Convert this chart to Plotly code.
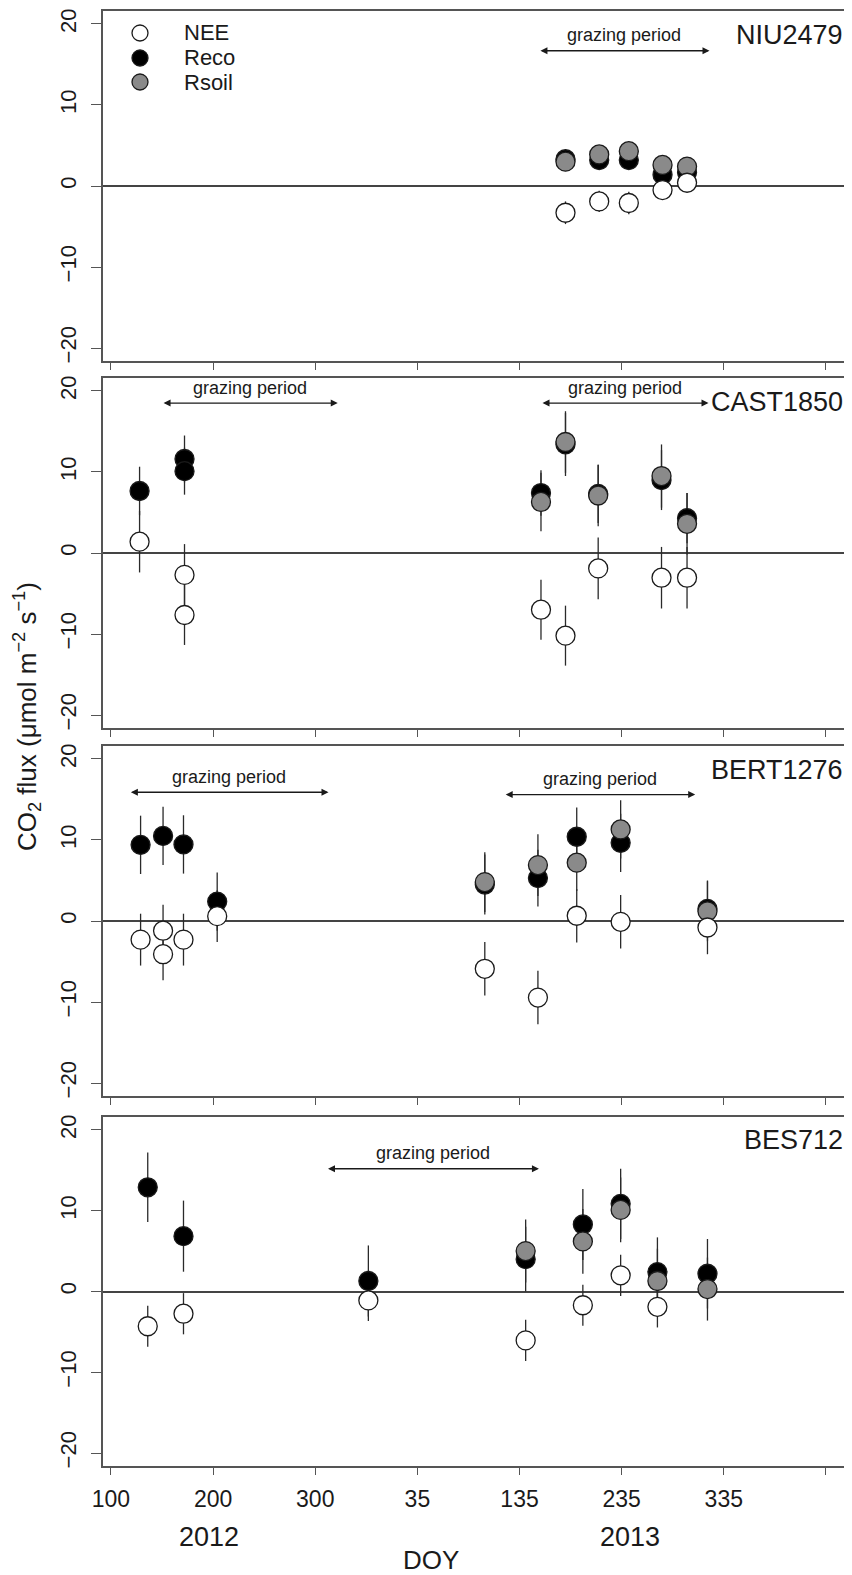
import plotly.graph_objects as go

# ---------------- data (x = day of year; 2013 days are shifted by 365 on the continuous axis) ----------------
sites = ["NIU2479", "CAST1850", "BERT1276", "BES712"]

# NIU2479
NIU_reco_doy = [180, 213, 242, 275, 299]
NIU_reco_year = [2013, 2013, 2013, 2013, 2013]
NIU_reco = [3.3, 3.2, 3.2, 1.4, 1.7]
NIU_reco_err = [1.2, 1.2, 1.2, 1.0, 1.0]
NIU_rsoil_doy = [180, 213, 242, 275, 299]
NIU_rsoil_year = [2013, 2013, 2013, 2013, 2013]
NIU_rsoil = [3.0, 3.9, 4.3, 2.6, 2.4]
NIU_rsoil_err = [1.0, 1.0, 1.0, 1.0, 1.0]
NIU_nee_doy = [180, 213, 242, 275, 299]
NIU_nee_year = [2013, 2013, 2013, 2013, 2013]
NIU_nee = [-3.3, -1.9, -2.1, -0.5, 0.4]
NIU_nee_err = [1.4, 1.3, 1.4, 1.0, 1.0]

# CAST1850
CAST_reco_doy = [128, 172, 172, 156, 180, 212, 274, 299]
CAST_reco_year = [2012, 2012, 2012, 2013, 2013, 2013, 2013, 2013]
CAST_reco = [7.65, 11.6, 10.1, 7.4, 13.4, 7.3, 9.0, 4.3]
CAST_reco_err = [3.0, 2.9, 2.9, 2.8, 3.9, 3.6, 3.7, 3.1]
CAST_rsoil_doy = [156, 180, 212, 274, 299]
CAST_rsoil_year = [2013, 2013, 2013, 2013, 2013]
CAST_rsoil = [6.3, 13.7, 7.1, 9.5, 3.6]
CAST_rsoil_err = [3.6, 3.8, 3.8, 3.9, 3.8]
CAST_nee_doy = [128, 172, 172, 156, 180, 212, 274, 299]
CAST_nee_year = [2012, 2012, 2012, 2013, 2013, 2013, 2013, 2013]
CAST_nee = [1.4, -2.7, -7.65, -7.0, -10.2, -1.9, -3.05, -3.05]
CAST_nee_err = [3.8, 3.8, 3.7, 3.7, 3.7, 3.8, 3.8, 3.8]

# BERT1276
BERT_reco_doy = [129, 151, 171, 204, 101, 153, 191, 234, 319]
BERT_reco_year = [2012, 2012, 2012, 2012, 2013, 2013, 2013, 2013, 2013]
BERT_reco = [9.4, 10.5, 9.45, 2.4, 4.5, 5.3, 10.4, 9.65, 1.5]
BERT_reco_err = [3.6, 3.6, 3.6, 3.6, 3.7, 3.5, 3.6, 3.6, 3.5]
BERT_rsoil_doy = [101, 153, 191, 234, 319]
BERT_rsoil_year = [2013, 2013, 2013, 2013, 2013]
BERT_rsoil = [4.8, 6.9, 7.2, 11.3, 1.2]
BERT_rsoil_err = [3.7, 3.8, 3.5, 3.6, 3.7]
BERT_nee_doy = [129, 151, 151, 171, 204, 101, 153, 191, 234, 319]
BERT_nee_year = [2012, 2012, 2012, 2012, 2012, 2013, 2013, 2013, 2013, 2013]
BERT_nee = [-2.3, -1.2, -4.1, -2.3, 0.6, -5.9, -9.45, 0.65, -0.1, -0.8]
BERT_nee_err = [3.2, 3.2, 3.2, 3.2, 3.2, 3.3, 3.3, 3.3, 3.3, 3.3]

# BES712
BES_reco_doy = [136, 171, 352, 141, 197, 234, 270, 319]
BES_reco_year = [2012, 2012, 2012, 2013, 2013, 2013, 2013, 2013]
BES_reco = [12.9, 6.85, 1.3, 4.0, 8.3, 10.85, 2.4, 2.2]
BES_reco_err = [4.3, 4.4, 4.4, 4.0, 4.4, 4.35, 4.3, 4.3]
BES_rsoil_doy = [141, 197, 234, 270, 319]
BES_rsoil_year = [2013, 2013, 2013, 2013, 2013]
BES_rsoil = [5.0, 6.2, 10.1, 1.3, 0.3]
BES_rsoil_err = [3.9, 4.0, 4.0, 4.0, 3.9]
BES_nee_doy = [136, 171, 352, 141, 197, 234, 270]
BES_nee_year = [2012, 2012, 2012, 2013, 2013, 2013, 2013]
BES_nee = [-4.3, -2.75, -1.1, -6.05, -1.7, 2.0, -1.9]
BES_nee_err = [2.55, 2.55, 2.55, 2.55, 2.55, 2.55, 2.55]

# grazing periods: (start doy, start year, end doy, end year)
NIU_grazing = [(154, 2013, 321, 2013)]
CAST_grazing = [(150, 2012, 322, 2012), (156, 2013, 320, 2013)]
BERT_grazing = [(118, 2012, 313, 2012), (120, 2013, 307, 2013)]
BES_grazing = [(311, 2012, 154, 2013)]

tick_days = [100, 200, 300, 400, 500, 600, 700, 800]
tick_labels = ["100", "200", "300", "35", "135", "235", "335", ""]
y_ticks = [-20, -10, 0, 10, 20]
legend_names = ["NEE", "Reco", "Rsoil"]

YEAR_SHIFT = {2012: 0, 2013: 365}


def cont(doys, years):
    return [d + YEAR_SHIFT[y] for d, y in zip(doys, years)]


panels = [
    dict(name="NIU2479",
         reco=(NIU_reco_doy, NIU_reco_year, NIU_reco, NIU_reco_err),
         rsoil=(NIU_rsoil_doy, NIU_rsoil_year, NIU_rsoil, NIU_rsoil_err),
         nee=(NIU_nee_doy, NIU_nee_year, NIU_nee, NIU_nee_err),
         graze=NIU_grazing, graze_y=[16.7]),
    dict(name="CAST1850",
         reco=(CAST_reco_doy, CAST_reco_year, CAST_reco, CAST_reco_err),
         rsoil=(CAST_rsoil_doy, CAST_rsoil_year, CAST_rsoil, CAST_rsoil_err),
         nee=(CAST_nee_doy, CAST_nee_year, CAST_nee, CAST_nee_err),
         graze=CAST_grazing, graze_y=[18.5, 18.5]),
    dict(name="BERT1276",
         reco=(BERT_reco_doy, BERT_reco_year, BERT_reco, BERT_reco_err),
         rsoil=(BERT_rsoil_doy, BERT_rsoil_year, BERT_rsoil, BERT_rsoil_err),
         nee=(BERT_nee_doy, BERT_nee_year, BERT_nee, BERT_nee_err),
         graze=BERT_grazing, graze_y=[15.9, 15.6]),
    dict(name="BES712",
         reco=(BES_reco_doy, BES_reco_year, BES_reco, BES_reco_err),
         rsoil=(BES_rsoil_doy, BES_rsoil_year, BES_rsoil, BES_rsoil_err),
         nee=(BES_nee_doy, BES_nee_year, BES_nee, BES_nee_err),
         graze=BES_grazing, graze_y=[15.2]),
]

# ---------------- layout geometry ----------------
# The page body has an 8 px default margin, so the figure is made 8 px smaller
# and all page-pixel positions below are shifted by that offset.
OFF = 8
W, H = 852 - OFF, 1575 - OFF
ML, MR, MT, MB = 103 - OFF, 0, 11 - OFF, 109
plot_w = W - ML - MR
plot_h = H - MT - MB
panel_px = [(11, 361), (378, 728), (746, 1096), (1117, 1466)]  # page pixels


def px_x(px):
    return (px - OFF - ML) / plot_w


def px_y(py):
    return (H - MB - (py - OFF)) / plot_h


FONT = "Liberation Sans, Arial, Helvetica, sans-serif"
AXC = "#555555"
TXT = "#1a1a1a"
EDGE = "#1a1a1a"

styles = {
    "nee": dict(name="NEE", fill="white"),
    "reco": dict(name="Reco", fill="black"),
    "rsoil": dict(name="Rsoil", fill="#8a8a8a"),
}

fig = go.Figure()

for i, p in enumerate(panels):
    sfx = "" if i == 0 else str(i + 1)
    xa, ya = "x" + sfx, "y" + sfx
    # error bars first (so that all markers are drawn on top)
    for key in ["reco", "rsoil", "nee"]:
        doy, yr, val, err = p[key]
        fig.add_trace(go.Scatter(
            x=cont(doy, yr), y=val, mode="markers", xaxis=xa, yaxis=ya,
            marker=dict(size=2, color="rgba(0,0,0,0)"),
            error_y=dict(type="data", array=err, visible=True, color="#2a2a2a",
                         thickness=1.3, width=0),
            showlegend=False, hoverinfo="skip"))
    for key in ["reco", "rsoil", "nee"]:
        doy, yr, val, err = p[key]
        st = styles[key]
        fig.add_trace(go.Scatter(
            x=cont(doy, yr), y=val, mode="markers", xaxis=xa, yaxis=ya,
            name=st["name"],
            marker=dict(size=19, color=st["fill"], line=dict(color=EDGE, width=1.3)),
            showlegend=False))

layout = dict(
    template="none",
    width=W, height=H,
    margin=dict(l=ML, r=MR, t=MT, b=MB, autoexpand=False),
    paper_bgcolor="white", plot_bgcolor="white",
    font=dict(family=FONT, color=TXT),
    showlegend=False,
)

annotations = []
shapes = []
for i, p in enumerate(panels):
    sfx = "" if i == 0 else str(i + 1)
    top, bot = panel_px[i]
    dom = [px_y(bot), px_y(top)]
    last = (i == len(panels) - 1)
    layout["xaxis" + sfx] = dict(
        domain=[0, 1], anchor="y" + sfx, range=[92.2, 825.5], automargin=False,
        tickmode="array", tickvals=tick_days, ticktext=tick_labels,
        showticklabels=last, ticks="outside", ticklen=7, tickwidth=1.3, tickcolor=AXC,
        showline=True, linecolor=AXC, linewidth=1.5, mirror=True,
        showgrid=False, zeroline=False,
        tickfont=dict(size=23, family=FONT, color=TXT), ticklabelstandoff=5,
    )
    layout["yaxis" + sfx] = dict(
        domain=dom, anchor="x" + sfx, range=[-21.6, 21.6], automargin=False,
        tickmode="array", tickvals=y_ticks,
        ticks="outside", ticklen=10, tickwidth=1.3, tickcolor=AXC,
        showline=True, linecolor=AXC, linewidth=1.5,
        showgrid=False, zeroline=True, zerolinecolor="#444444", zerolinewidth=1.7,
        tickangle=-90, tickfont=dict(size=22, family=FONT, color=TXT),
        ticklabelstandoff=6,
    )
    # site name
    annotations.append(dict(
        text=p["name"], xref="paper", yref="y" + sfx,
        x=px_x(845), y=18.7, xanchor="right", yanchor="middle", showarrow=False,
        font=dict(size=27, family=FONT, color=TXT)))
    # grazing periods
    for (sd, sy, ed, ey), gy in zip(p["graze"], p["graze_y"]):
        xs = sd + YEAR_SHIFT[sy]
        xe = ed + YEAR_SHIFT[ey]
        annotations.append(dict(
            text="", x=xe, y=gy, ax=xs, ay=gy,
            xref="x" + sfx, yref="y" + sfx, axref="x" + sfx, ayref="y" + sfx,
            showarrow=True, arrowhead=2, arrowside="end+start", arrowsize=1.0,
            arrowwidth=1.4, arrowcolor="#1a1a1a", standoff=0, startstandoff=0))
        annotations.append(dict(
            text="grazing period", x=(xs + xe) / 2, y=gy + 1.9,
            xref="x" + sfx, yref="y" + sfx, showarrow=False,
            xanchor="center", yanchor="middle",
            font=dict(size=18, family=FONT, color=TXT)))

# legend (drawn manually, top-left of first panel)
leg_rows_px = [33, 58, 82]
r = 8
for name, key, ypx in zip(legend_names, ["nee", "reco", "rsoil"], leg_rows_px):
    shapes.append(dict(
        type="circle", xref="paper", yref="paper",
        x0=px_x(140 - r), x1=px_x(140 + r), y0=px_y(ypx + r), y1=px_y(ypx - r),
        fillcolor=styles[key]["fill"], line=dict(color=EDGE, width=1.3), layer="above"))
    annotations.append(dict(
        text=name, xref="paper", yref="paper", x=px_x(182), y=px_y(ypx),
        xanchor="left", yanchor="middle", showarrow=False,
        font=dict(size=22, family=FONT, color=TXT)))

# y-axis title
annotations.append(dict(
    text="CO<sub>2</sub> flux (μmol m<sup>−2</sup> s<sup>−1</sup>)",
    xref="paper", yref="paper", x=px_x(27), y=px_y(717),
    textangle=-90, showarrow=False, xanchor="center", yanchor="middle",
    font=dict(size=26, family=FONT, color=TXT)))
# year labels and DOY label
annotations.append(dict(text="2012", xref="x4", yref="paper", x=196, y=px_y(1537),
                        showarrow=False, yanchor="middle",
                        font=dict(size=27, family=FONT, color=TXT)))
annotations.append(dict(text="2013", xref="x4", yref="paper", x=608, y=px_y(1537),
                        showarrow=False, yanchor="middle",
                        font=dict(size=27, family=FONT, color=TXT)))
annotations.append(dict(text="DOY", xref="paper", yref="paper", x=px_x(431),
                        y=px_y(1560), showarrow=False, yanchor="middle",
                        font=dict(size=26, family=FONT, color=TXT)))

layout["annotations"] = annotations
layout["shapes"] = shapes
fig.update_layout(**layout)

fig.write_html("out.html")
